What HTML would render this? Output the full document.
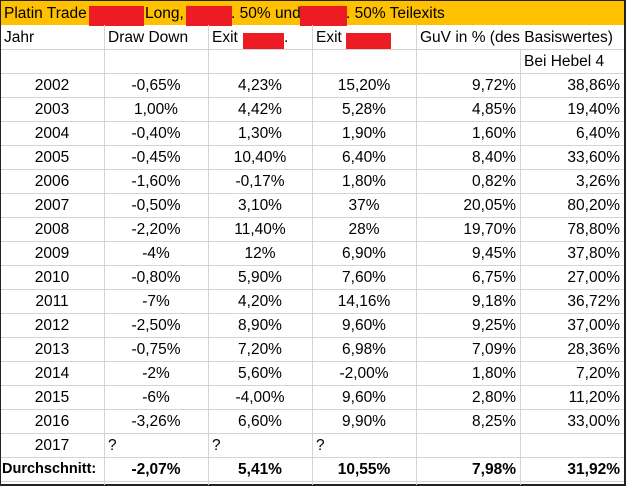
<!DOCTYPE html>
<html><head><meta charset="utf-8"><style>
body{margin:0;width:629px;height:487px;background:#fff;position:relative;overflow:hidden;font-family:"Liberation Sans",sans-serif;font-size:15.5px;color:#000}
.b{position:absolute}
.t{position:absolute;height:24px;line-height:25px;white-space:nowrap}
.c{text-align:center}.r{text-align:right}
.hl{position:absolute;left:1px;width:623px;height:1px;background:#d4d4d4}
.vl{position:absolute;top:25px;width:1px;height:460px;background:#d4d4d4}
.red{position:absolute;background:#ed1c24}
</style></head><body>
<div class="b" style="left:0;top:0;width:626px;height:486px;border:1px solid #222;border-right:2px solid #222;border-bottom:2px solid #222;box-sizing:border-box"></div>
<div class="b" style="left:1px;top:1px;width:623px;height:24px;background:#ffc000"></div>
<div class="t" style="left:4px;top:1px">Platin Trade</div>
<div class="t" style="left:145px;top:1px">Long,</div>
<div class="t" style="left:231px;top:1px">. 50% und</div>
<div class="t" style="left:346px;top:1px">. 50% Teilexits</div>
<div class="red" style="left:89px;top:6px;width:55px;height:20px"></div>
<div class="red" style="left:186px;top:6px;width:46px;height:20px"></div>
<div class="red" style="left:300px;top:6px;width:47px;height:20px"></div>
<div class="red" style="left:243px;top:33px;width:41px;height:16px"></div>
<div class="red" style="left:346px;top:33px;width:45px;height:16px"></div>
<div class="vl" style="left:104px"></div><div class="vl" style="left:208px"></div><div class="vl" style="left:312px"></div><div class="vl" style="left:416px;top:25px"></div><div class="vl" style="left:520px;top:49px;height:436px"></div>
<div id="g"></div>
<script>
var h='';for(var i=0;i<19;i++){h+='<div class="hl" style="top:'+(49+i*24)+'px"></div>';}
var rows=[["2002","-0,65%","4,23%","15,20%","9,72%","38,86%"],["2003","1,00%","4,42%","5,28%","4,85%","19,40%"],["2004","-0,40%","1,30%","1,90%","1,60%","6,40%"],["2005","-0,45%","10,40%","6,40%","8,40%","33,60%"],["2006","-1,60%","-0,17%","1,80%","0,82%","3,26%"],["2007","-0,50%","3,10%","37%","20,05%","80,20%"],["2008","-2,20%","11,40%","28%","19,70%","78,80%"],["2009","-4%","12%","6,90%","9,45%","37,80%"],["2010","-0,80%","5,90%","7,60%","6,75%","27,00%"],["2011","-7%","4,20%","14,16%","9,18%","36,72%"],["2012","-2,50%","8,90%","9,60%","9,25%","37,00%"],["2013","-0,75%","7,20%","6,98%","7,09%","28,36%"],["2014","-2%","5,60%","-2,00%","1,80%","7,20%"],["2015","-6%","-4,00%","9,60%","2,80%","11,20%"],["2016","-3,26%","6,60%","9,90%","8,25%","33,00%"]];
var L=[0,104,208,312,416,520],W=[104,104,104,104,104,104];
h+='<div class="t" style="left:4px;top:25px">Jahr</div><div class="t" style="left:108px;top:25px">Draw Down</div><div class="t" style="left:212px;top:25px">Exit</div><div class="t" style="left:284px;top:25px">.</div><div class="t" style="left:316px;top:25px">Exit</div><div class="t" style="left:420px;top:25px">GuV in % (des Basiswertes)</div><div class="t" style="left:524px;top:49px">Bei Hebel 4</div>';
rows.forEach(function(r,k){var y=73+k*24;r.forEach(function(v,j){var cls=j<4?'c':'r';var l=L[j],w=j<4?W[j]:100;if(j==0){l=0;w=104}h+='<div class="t '+cls+'" style="left:'+l+'px;width:'+w+'px;top:'+y+'px">'+v+'</div>';});});
var y=73+15*24;
h+='<div class="t c" style="left:0;width:104px;top:'+y+'px">2017</div><div class="t" style="left:108px;top:'+y+'px">?</div><div class="t" style="left:212px;top:'+y+'px">?</div><div class="t" style="left:316px;top:'+y+'px">?</div>';
y+=24;var a=["-2,07%","5,41%","10,55%","7,98%","31,92%"];
h+='<div class="t" style="left:2px;top:'+y+'px;font-weight:bold;font-size:14.5px">Durchschnitt:</div>';
a.forEach(function(v,i){var j=i+1;var cls=j<4?'c':'r';h+='<div class="t '+cls+'" style="left:'+L[j]+'px;width:'+(j<4?104:100)+'px;top:'+y+'px;font-weight:bold">'+v+'</div>';});
document.getElementById('g').innerHTML=h;
</script>
</body></html>
